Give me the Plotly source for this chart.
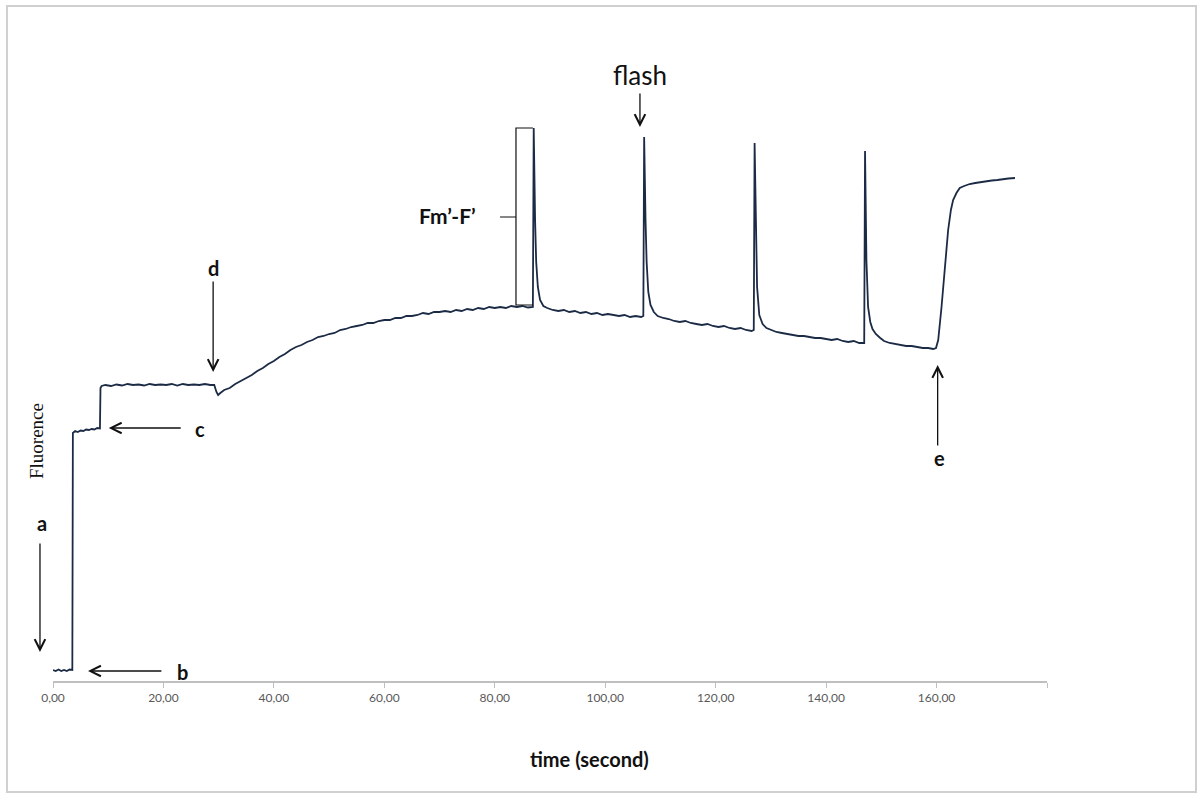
import plotly.graph_objects as go

# ---- data (time in s, fluorescence in arbitrary units) ----
time_s = [
    0.0, 0.5, 1.0, 1.5, 2.0, 2.5, 3.0, 3.5,
    3.6, 4.0, 4.5, 5.0, 5.5, 6.0, 6.5, 7.0, 7.5, 8.0, 8.5,
    8.6, 8.8, 9.5, 10.5, 11.5, 12.5, 13.5, 14.5, 15.5, 16.5, 17.5, 18.5, 19.5, 20.5,
    21.5, 22.5, 23.5, 24.5, 25.5, 26.5, 27.5, 28.5, 29.2,
    29.6, 29.9, 30.3, 31, 32, 33, 34, 35, 36, 37, 38, 39, 40, 41, 42, 43, 44, 45,
    46, 47, 48, 49, 50, 51, 52, 53, 54, 55, 56, 57, 58, 59, 60, 61, 62, 63, 64, 65,
    66, 67, 68, 69, 70, 71, 72, 73, 74, 75, 76, 77, 78, 79, 80, 81, 82, 83, 84, 85,
    86, 86.9,
    87.05, 87.3, 87.5, 87.8, 88.2, 88.8, 89.5, 90.5, 91.5, 92.5, 93.5, 94.5, 95.5,
    96.5, 97.5, 98.5, 99.5, 100.5, 101.5, 102.5, 103.5, 104.5, 105.5, 106.5, 106.9,
    107.05, 107.3, 107.5, 107.8, 108.2, 108.8, 109.5, 110.5, 111.5, 112.5, 113.5,
    114.5, 115.5, 116.5, 117.5, 118.5, 119.5, 120.5, 121.5, 122.5, 123.5, 124.5,
    125.5, 126.5, 126.9,
    127.05, 127.3, 127.5, 127.9, 128.5, 129.2, 130, 131, 132, 133, 134, 135, 136,
    137, 138, 139, 140, 141, 142, 143, 144, 145, 146, 146.9,
    147.05, 147.3, 147.6, 148.0, 148.4, 149, 149.8, 150.5, 151.5, 152.5, 153.5,
    154.5, 155.5, 156.5, 157.5, 158.5, 159.4, 159.9,
    160.3, 160.9, 161.5, 162.1, 162.6, 163.0, 163.6, 164.2, 165, 166, 167, 168,
    169, 170, 171, 172, 173, 174.2,
]
fluorescence = [
    11, 10, 11.5, 10, 11, 10, 11.5, 11,
    248, 250, 249, 250.5, 250, 251.5, 251, 252, 251.5, 253, 252.5,
    293, 295, 296, 295, 296.5, 295.5, 297, 296, 296.5, 295.5, 297, 296, 296.5, 296,
    297, 295.5, 297, 296, 296.5, 296, 297, 296, 296,
    289, 286, 288, 291, 293, 297, 300, 303, 306, 310, 313, 317, 320, 324, 327, 331, 334, 336,
    339, 341, 344, 345, 347, 348, 351, 352, 354, 355, 356, 358, 358, 360, 361, 361, 363, 363, 365, 365,
    366, 368, 367, 369, 369, 370, 369, 371, 370, 372, 371, 373, 372, 374, 373, 374, 373, 375, 374, 375,
    373.5, 374,
    553, 461, 419, 394, 381, 375, 373, 371, 370, 371, 369, 370, 368,
    369, 367, 368, 366, 367, 366, 365, 366, 364, 365, 364, 365,
    544, 461, 419, 389, 376, 369, 365, 363, 362, 360, 359,
    360, 358, 357, 356, 357, 355, 354, 355, 353, 352, 353,
    351, 350, 351,
    538, 431, 394, 366, 357, 353, 351, 349, 348, 347, 346, 345, 345,
    344, 343, 343, 342, 341, 342, 340, 339, 340, 338, 338,
    530, 421, 374, 359, 352, 347, 343, 340, 338, 337, 336,
    335, 335, 334, 333, 333, 332, 333,
    341, 374, 414, 451, 471, 481, 488, 493, 495, 497, 498, 499,
    500, 500.5, 501, 502, 502.5, 503,
]

tick_values = [0, 20, 40, 60, 80, 100, 120, 140, 160, 180]
tick_labels = ["0,00", "20,00", "40,00", "60,00", "80,00", "100,00",
               "120,00", "140,00", "160,00", ""]

LINE = "#1c2b45"
BOLD = "Lato"
INK = "#111111"

fig = go.Figure()
fig.add_trace(go.Scatter(
    x=time_s, y=fluorescence, mode="lines",
    line=dict(color=LINE, width=1.8),
    hoverinfo="skip", showlegend=False,
))

def arrow(x, y, ax, ay, ref="data"):
    if ref == "data":
        xr, yr = "x", "y"
    else:
        xr, yr = "x domain", "y domain"
    return dict(x=x, y=y, ax=ax, ay=ay, xref=xr, yref=yr, axref=xr, ayref=yr,
                text="", showarrow=True, arrowhead=5, arrowsize=1.6,
                arrowwidth=1.3, arrowcolor=INK, standoff=0, startstandoff=0)

def label(x, y, text, size=20, family=BOLD, bold=True, angle=0, ref="data"):
    t = "<b>" + text + "</b>" if bold else text
    xr, yr = ("x", "y") if ref == "data" else ("x domain", "y domain")
    return dict(x=x, y=y, xref=xr, yref=yr, text=t, showarrow=False,
                textangle=angle, font=dict(family=family, size=size, color=INK),
                xanchor="center", yanchor="middle")

annotations = [
    # outside the axis ranges -> axis-domain coordinates
    arrow(-0.0131, 0.0499, -0.0131, 0.2392, ref="dom"),
    label(-0.0111, 0.2719, "a", ref="dom"),
    arrow(0.5905, 0.9535, 0.5905, 1.0138, ref="dom"),
    label(0.5905, 1.0430, "flash", size=26, bold=False, ref="dom"),
    label(-0.0161, 0.4131, "Fluorence", size=19, family="Liberation Serif",
          bold=False, angle=-90, ref="dom"),
    label(0.5402, -0.1343, "time (second)", size=20, ref="dom"),
    # inside the plot
    arrow(6.34, 10, 19.9, 10), label(23.4, 9, "b"),
    arrow(10.1, 253, 23.4, 253), label(26.6, 252, "c"),
    arrow(29.0, 309, 29.0, 401), label(29.0, 413, "d"),
    arrow(160.2, 316, 160.2, 234), label(160.6, 223, "e"),
    label(71.5, 466, "Fm’-F’", size=21),
]

shapes = [
    # Fm'-F' bracket
    dict(type="path", xref="x", yref="y",
         path="M 86.9,553 L 83.84,553 L 83.84,376 L 86.9,376 M 83.84,464 L 80.95,464",
         line=dict(color=INK, width=1.2)),
    # outer chart frame
    dict(type="rect", xref="paper", yref="paper",
         x0=-0.0463, x1=1.1499, y0=-0.1910, y1=1.1618,
         line=dict(color="#d0d0d0", width=2), fillcolor="rgba(0,0,0,0)", layer="below"),
]

fig.update_layout(
    width=1204, height=798, autosize=False,
    margin=dict(l=53, r=157, t=100, b=117, pad=0),
    paper_bgcolor="white", plot_bgcolor="white",
    annotations=annotations, shapes=shapes,
    xaxis=dict(range=[0, 180], showgrid=False, zeroline=False,
               showline=True, linecolor="#bfbfbf", linewidth=1.5,
               ticks="outside", ticklen=5, tickcolor="#bfbfbf", tickwidth=1,
               tickvals=tick_values, ticktext=tick_labels,
               tickfont=dict(family="Lato", size=12, color="#595959")),
    yaxis=dict(range=[0, 581], visible=False),
    hovermode=False,
)

fig.write_html("out.html", config={"displayModeBar": False})
